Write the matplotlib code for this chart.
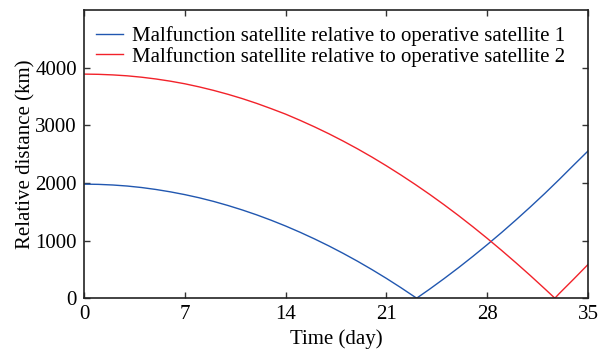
import matplotlib
matplotlib.use("Agg")
import matplotlib.pyplot as plt

# values (relative distance in km, time in days)
t_sat1 = [0, 1, 2, 3, 4, 5, 6, 7, 8, 9, 10, 11, 12, 13, 14, 15, 16, 17, 18,
          19, 20, 21, 22, 23, 23.1, 24, 25, 26, 27, 28, 29, 30, 31, 32, 33,
          34, 35]
d_sat1 = [1980, 1976, 1965, 1947, 1921, 1887, 1846, 1798, 1743, 1680, 1609,
          1531, 1446, 1353, 1253, 1145, 1030, 908, 778, 641, 496, 344, 184,
          17, 0, 157, 339, 528, 725, 929, 1140, 1359, 1585, 1818, 2060, 2309,
          2555]

t_sat2 = [0, 1, 2, 3, 4, 5, 6, 7, 8, 9, 10, 11, 12, 13, 14, 15, 16, 17, 18,
          19, 20, 21, 22, 23, 24, 25, 26, 27, 28, 29, 30, 31, 32, 32.7, 33,
          34, 35]
d_sat2 = [3890, 3886, 3876, 3860, 3836, 3805, 3767, 3722, 3668, 3607, 3539,
          3464, 3381, 3290, 3195, 3088, 2975, 2855, 2727, 2592, 2449, 2298,
          2140, 1975, 1803, 1623, 1436, 1241, 1039, 830, 614, 392, 163, 0, 80,
          330, 585]

labels = ["Malfunction satellite relative to operative satellite 1",
          "Malfunction satellite relative to operative satellite 2"]
xticks = [0, 7, 14, 21, 28, 35]
yticks = [0, 1000, 2000, 3000, 4000]

plt.rcParams['font.family'] = ['Liberation Serif', 'DejaVu Serif']
plt.rcParams['font.size'] = 15

fig = plt.figure(figsize=(6, 3.5), dpi=100)
ax = fig.add_axes([0.14, 0.148, 0.84, 0.823])

ax.plot(t_sat1, d_sat1, color='#2157b0', lw=1.0, label=labels[0])
ax.plot(t_sat2, d_sat2, color='#f2222a', lw=1.0, label=labels[1])

ax.set_xlim(0, 35)
ax.set_ylim(0, 5000)
ax.set_xticks(xticks)
ax.set_yticks(yticks)
ax.tick_params(direction='in', length=4, width=1, top=True, right=True,
               labelsize=15, color='#333333')
ax.tick_params(axis='x', pad=5)
ax.tick_params(axis='y', pad=5)
for s in ax.spines.values():
    s.set_linewidth(1.2)
    s.set_color('#222222')

ax.set_xlabel("Time (day)", fontsize=15)
ax.xaxis.set_label_coords(0.5, -0.108)
ax.set_ylabel("Relative distance (km)", fontsize=15)
ax.yaxis.set_label_coords(-0.097, 0.5)

ax.legend(loc='upper left', bbox_to_anchor=(0.024, 0.944), frameon=False,
          fontsize=15, handlelength=1.3, handletextpad=0.4,
          labelspacing=0.02, borderpad=0, borderaxespad=0)

fig.savefig("out.png", dpi=100)
